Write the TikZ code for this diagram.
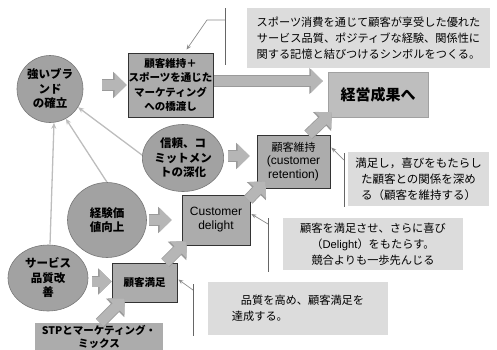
\documentclass[tikz,border=0pt]{standalone}
\usepackage{fontspec}
\setmainfont{Noto Sans CJK JP}
\newfontfamily\latinf{Liberation Sans}
\usetikzlibrary{shapes.geometric,arrows.meta,calc}
\definecolor{circfill}{HTML}{A2A2A2}
\definecolor{circline}{HTML}{787878}
\definecolor{boxfill}{HTML}{ACACAC}
\definecolor{goalfill}{HTML}{BEBEBE}
\definecolor{notefill}{HTML}{DCDCDC}
\definecolor{fatgray}{HTML}{B6B6B6}
\definecolor{fatedge}{HTML}{9A9A9A}
\definecolor{thingray}{HTML}{BDBDBD}
\definecolor{bracketgray}{HTML}{666666}
\definecolor{leadergray}{HTML}{8C8C8C}
\begin{document}
\begin{tikzpicture}[x=1pt,y=-1pt,
  circ/.style={ellipse, fill=circfill, draw=circline, line width=0.6pt, inner sep=0pt, align=center,
    font=\fontsize{11.5}{14.5}\selectfont\bfseries},
  boxn/.style={rectangle, fill=boxfill, draw=black!80, line width=0.7pt, inner sep=0pt, align=center,
    font=\fontsize{10.5}{14}\selectfont},
  goalbox/.style={rectangle, fill=goalfill, draw=goalfill!85!black, line width=0.4pt, inner sep=0pt, align=center,
    font=\fontsize{15}{18}\selectfont\bfseries},
  stpbox/.style={rectangle, fill=boxfill, inner sep=0pt, align=center,
    font=\fontsize{10.5}{13}\selectfont\bfseries},
  note/.style={rectangle, fill=notefill, inner sep=0pt, align=center,
    font=\fontsize{11.2}{16}\selectfont},
  fat/.style={line width=10pt, draw=fatgray, -{Triangle[length=12pt,width=23pt]},
    preaction={draw=fatedge, line width=11.6pt, -{Triangle[length=13.5pt,width=25.5pt]}}},
  thin/.style={line width=1.3pt, draw=thingray, -{Stealth[length=6pt,width=5pt]}},
  bracketline/.style={line width=0.7pt, draw=bracketgray},
  leader/.style={line width=0.7pt, draw=leadergray, -{Stealth[length=5pt,width=4pt]}}
]
\useasboundingbox (0,0) rectangle (497,349);

% notes
\node[note, minimum width=243pt, minimum height=60pt] (topnote) at (368.5,38)
  {スポーツ消費を通じて顧客が享受した優れた\\サービス品質、ポジティブな経験、関係性に\\関する記憶と結びつけるシンボルをつくる。};
\node[note, minimum width=141pt, minimum height=54pt, font=\fontsize{11.5}{16}\selectfont] (retnote) at (418.5,179)
  {満足し，喜びをもたらし\\た顧客との関係を深め\\る（顧客を維持する）};
\node[note, minimum width=180pt, minimum height=52pt] (delnote) at (373,244)
  {顧客を満足させ、さらに喜び\\（{\latinf Delight}）をもたらす。\\競合よりも一歩先んじる};
\node[note, minimum width=180pt, minimum height=53pt, align=left] (satnote) at (298,308.5)
  {\hspace*{9pt}品質を高め、顧客満足を\\達成する。};

% circles
\node[circ, minimum width=66pt, minimum height=67pt] (brand) at (50,89) {強いブラ\\ンド\\の確立};
\node[circ, minimum width=77pt, minimum height=67pt] (trust) at (183,158) {信頼、コ\\ミットメン\\トの深化};
\node[circ, minimum width=79pt, minimum height=75pt] (exp) at (107,220) {経験価\\値向上};
\node[circ, minimum width=80pt, minimum height=66pt] (service) at (48,278) {サービス\\品質改\\善};

% boxes
\node[boxn, minimum width=85pt, minimum height=64pt, font=\fontsize{10.5}{14.5}\selectfont\bfseries] (bridge) at (170.5,85)
  {顧客維持＋\\スポーツを通じた\\マーケティング\\への橋渡し};
\node[goalbox, minimum width=100pt, minimum height=45pt] (goal) at (378,94.5) {経営成果へ};
\node[boxn, minimum width=73pt, minimum height=53pt, font=\fontsize{11}{13.5}\selectfont] (retention) at (293.5,161.5)
  {顧客維持\\{\latinf\fontsize{12}{13.5}\selectfont (customer}\\{\latinf\fontsize{12}{13.5}\selectfont retention)}};
\node[boxn, minimum width=68pt, minimum height=50pt, font=\latinf\fontsize{12}{14}\selectfont] (delight) at (216,220) {Customer\\delight};
\node[boxn, minimum width=65pt, minimum height=39pt, font=\fontsize{10.5}{14}\selectfont\bfseries] (sat) at (144.5,282.5) {顧客満足};
\node[stpbox, minimum width=128pt, minimum height=27pt] (stp) at (99,336.5) {STPとマーケティング・\\ミックス};

% fat arrows
\draw[fat, shorten <=19pt, shorten >=1pt] (brand.east |- bridge.west) -- (bridge.west);
\draw[fat, shorten >=5pt] ($(bridge.east)+(1,-4)$) -- ($(bridge.east -| goal.west)+(0,-4)$);
\draw[fat] ($(trust.east)+(4,-2)$) -- ($(trust.east -| retention.west)+(-7,-2)$);
\draw[fat] ($(exp.east)+(2,0)$) -- ($(delight.west)+(-10,0)$);
\draw[fat] ($(service.east |- sat.west)+(4,-1)$) -- ($(sat.west)+(0,-1)$);
\draw[fat] ($(stp.north)+(1,0)$) -- ($(sat.south west)+(13,-4)$);
\draw[fat] ($(sat.north east)+(-12,0)$) -- ($(delight.south west)+(5,-4)$);
\draw[fat] ($(delight.north east)+(-2,5)$) -- ($(retention.south west)+(9,-7)$);
\draw[fat] ($(retention.north east)+(-22,0)$) -- ($(goal.south west)+(4,-5)$);

% thin arrows to brand
\draw[thin] ($(service.north)+(2,0)$) -- ($(brand.south)+(4,0)$);
\draw[thin] (exp.north) -- (brand.-62);
\draw[thin] (trust.176) -- (brand.-33);

% callout brackets and leaders
\coordinate (tbA) at (225,8);
\coordinate (tbB) at (225,65);
\coordinate (tbM) at (225,20);
\draw[bracketline] (tbA) -- (tbB);
\draw[leader] (tbM) -- ++(-18,0) -- ($(bridge.north)+(16,-3)$);

\coordinate (rbA) at (344,153);
\coordinate (rbB) at (344,207);
\coordinate (rbM) at (344,160);
\draw[bracketline] (rbA) -- (rbB);
\draw[leader] (rbM) -- ($(retention.east)+(1,-14)$);

\coordinate (dbA) at (268,218);
\coordinate (dbB) at (268,272);
\coordinate (dbM) at (268,224);
\draw[bracketline] (dbA) -- (dbB);
\draw[leader] (dbM) -- ($(delight.east)+(1,-6)$);

\coordinate (sbA) at (193,284);
\coordinate (sbB) at (193,336);
\coordinate (sbM) at (193,290);
\draw[bracketline] (sbA) -- (sbB);
\draw[leader] (sbM) -- ($(sat.east)+(1,-3)$);
\end{tikzpicture}
\end{document}
